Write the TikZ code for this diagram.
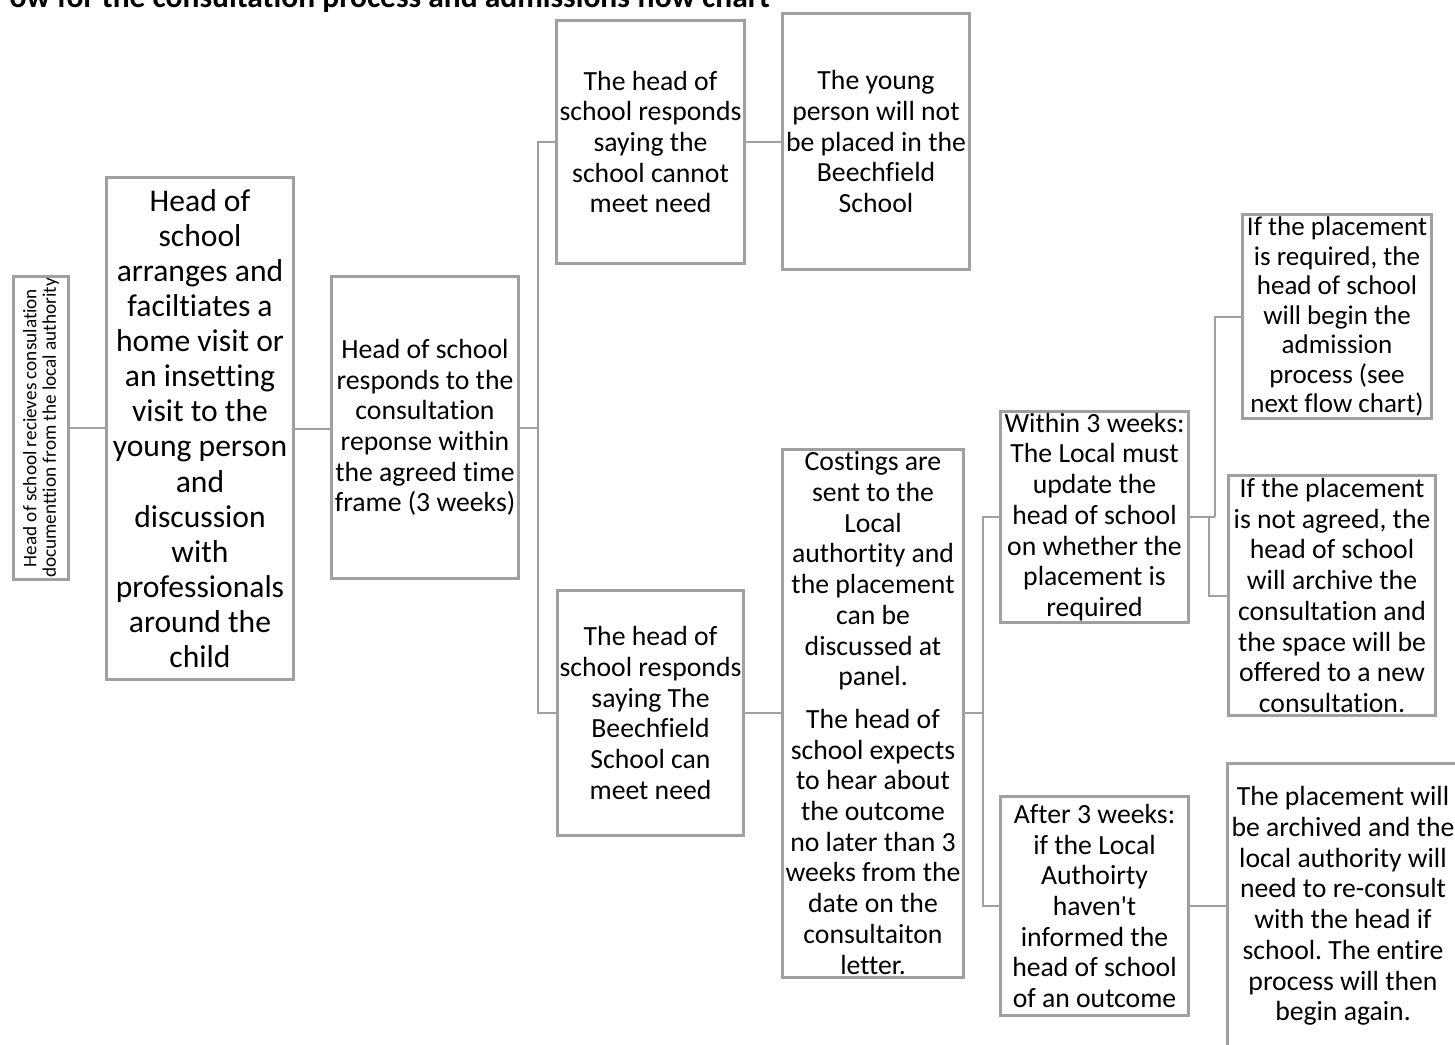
\documentclass[tikz,border=0pt]{standalone}
\usepackage{fontspec}
\setmainfont{Carlito}[Ligatures={TeX,NoCommon}]
\frenchspacing
\definecolor{boxgray}{HTML}{A0A0A0}
\tikzset{
  box/.style={draw=boxgray, line width=3pt, inner sep=0pt, align=center, fill=white},
  fbig/.style={font=\fontsize{31.6}{35.1}\selectfont},
  fmid/.style={font=\fontsize{27.7}{30.7}\selectfont},
  fj/.style={font=\fontsize{27}{29.5}\selectfont},
  conn/.style={draw=boxgray, line width=2pt},
}
\begin{document}
\begin{tikzpicture}[x=1pt,y=-1pt]
\useasboundingbox (0,0) rectangle (1455,1044);
% title (clipped at top)
\node[anchor=base east, inner sep=0pt, font=\fontsize{31.5}{36}\selectfont\bfseries] (title) at (770,7.5) {ow for the consultation process and admissions flow chart};
% boxes
\node[box, rotate=90, minimum width=303pt, minimum height=55pt, font=\fontsize{19.2}{19.5}\selectfont] (A) at (41,428) {Head of school recieves consulation\\documenttion from the local authority};
\node[box, fbig, minimum width=187pt, minimum height=502pt] (B) at (200,428.5) {Head of\\school\\arranges and\\faciltiates a\\home visit or\\an insetting\\visit to the\\young person\\and\\discussion\\with\\professionals\\around the\\child};
\node[box, fmid, minimum width=187pt, minimum height=302pt] (C) at (425,427.5) {Head of school\\responds to the\\consultation\\reponse within\\the agreed time\\frame (3 weeks)};
\node[box, fmid, minimum width=188pt, minimum height=243pt] (D) at (650.5,142) {The head of\\school responds\\saying the\\school cannot\\meet need};
\node[box, fmid, minimum width=187pt, minimum height=256pt] (F) at (876,141.5) {The young\\person will not\\be placed in the\\Beechfield\\School};
\node[box, fmid, minimum width=186pt, minimum height=245pt] (E) at (650.5,713) {The head of\\school responds\\saying The\\Beechfield\\School can\\meet need};
\node[box, fmid, minimum width=181pt, minimum height=528pt] (G) at (873,713) {Costings are\\sent to the\\Local\\authortity and\\the placement\\can be\\discussed at\\panel.\\[12pt]The head of\\school expects\\to hear about\\the outcome\\no later than 3\\weeks from the\\date on the\\consultaiton\\letter.};
\node[box, fmid, minimum width=188pt, minimum height=211pt] (H) at (1094.5,517) {Within 3 weeks:\\The Local must\\update the\\head of school\\on whether the\\placement is\\required};
\node[box, fmid, minimum width=188pt, minimum height=219pt] (I) at (1094.5,906) {After 3 weeks:\\if the Local\\Authoirty\\haven\textquotesingle t\\informed the\\head of school\\of an outcome};
\node[box, fj, minimum width=189pt, minimum height=204pt] (J) at (1337,316.5) {If the placement\\is required, the\\head of school\\will begin the\\admission\\process (see\\next flow chart)};
\node[box, fmid, minimum width=207pt, minimum height=240pt] (K) at (1332,595.5) {If the placement\\is not agreed, the\\head of school\\will archive the\\consultation and\\the space will be\\offered to a new\\consultation.};
\node[box, fmid, minimum width=232pt, minimum height=285pt] (L) at (1343,906) {The placement will\\be archived and the\\local authority will\\need to re-consult\\with the head if\\school. The entire\\process will then\\begin again.};
% junctions
\coordinate (j1) at (538,428);
\coordinate (j2) at (983,713);
\coordinate (j3) at (1215,517);
\coordinate (j4) at (1209,517);
% connectors
\draw[conn] (A.south) -- (A.south -| B.west);
\draw[conn] (B.east) -- (B.east -| C.west);
\draw[conn] (C.east) -- (C.east -| j1);
\draw[conn] (j1) |- (D.west);
\draw[conn] (j1) |- (E.west);
\draw[conn] (D.east) -- (D.east -| F.west);
\draw[conn] (E.east) -- (E.east -| G.west);
\draw[conn] (G.east) -- (G.east -| j2);
\draw[conn] (j2) |- (H.west);
\draw[conn] (j2) |- (I.west);
\draw[conn] (H.east) -- (H.east -| j3);
\draw[conn] (j3) |- (J.west);
\draw[conn] (j4) |- (K.west);
\draw[conn] (I.east) -- (I.east -| L.west);
\end{tikzpicture}
\end{document}
